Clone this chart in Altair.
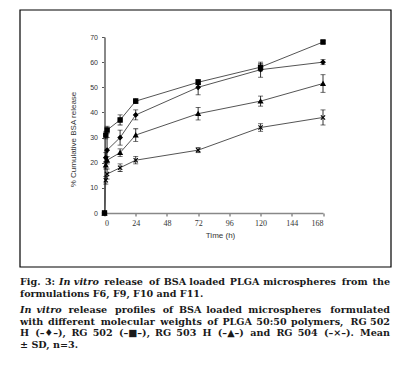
import altair as alt
import pandas as pd

# ---- data ----
times = [0, 1, 2, 12, 24, 72, 120, 168]
series_names = ["RG 502 H", "RG 502", "RG 503 H", "RG 504"]
rg502h = [0, 22, 25, 30, 39, 50, 57, 60]
rg502h_sd = [0, 2, 5, 3, 2, 3, 3, 1]
rg502 = [0, 31, 33, 37, 44.5, 52, 58, 68]
rg502_sd = [0, 1.5, 1.5, 2, 1, 1, 1.5, 0.5]
rg503h = [0, 19, 21, 24, 31, 39.5, 44.5, 51.5]
rg503h_sd = [0, 1.5, 1.5, 1.5, 2.5, 2.5, 2, 3.5]
rg504 = [0, 13, 15.5, 18, 21, 25, 34, 38]
rg504_sd = [0, 1.5, 2, 1.5, 1.5, 1, 1.5, 3]

x_ticks = [0, 24, 48, 72, 96, 120, 144, 168]
y_ticks = [0, 10, 20, 30, 40, 50, 60, 70]

caption_lines = [
    ("Fig. 3: *In *vitro release of BSA loaded PLGA microspheres from the", True),
    ("formulations F6, F9, F10 and F11.", False),
    ("*In *vitro release profiles of BSA loaded microspheres formulated", True),
    ("with different molecular weights of PLGA 50:50 polymers, RG 502", True),
    ("H (\u2013\u2666\u2013), RG 502 (\u2013\u25a0\u2013), RG 503 H (\u2013\u25b2\u2013) and RG 504 (\u2013\u00d7\u2013). Mean", True),
    ("\u00b1 SD, n=3.", False),
]

means = [rg502h, rg502, rg503h, rg504]
sds = [rg502h_sd, rg502_sd, rg503h_sd, rg504_sd]

rows = []
for name, m, s in zip(series_names, means, sds):
    for t, v, e in zip(times, m, s):
        rows.append({"time": t, "series": name, "mean": v, "sd": e,
                     "lo": v - e, "hi": v + e})
df = pd.DataFrame(rows)

shape_range = ["diamond", "square", "triangle-up", "M-1,-1L1,1M-1,1L1,-1"]

x_scale = alt.Scale(domain=[0, 168], nice=False)
y_scale = alt.Scale(domain=[0, 70], nice=False)
x_axis = alt.Axis(
    values=x_ticks, title="Time (h)", grid=False, labelOverlap=False,
    labelFont="Liberation Serif", labelFontSize=8, labelColor="#333",
    titleFont="Liberation Sans", titleFontSize=8, titleFontWeight="normal",
    titleColor="#333", titleX=115.5, titleY=22, titleBaseline="middle",
    tickSize=3, tickColor="#555", domainColor="#888", domainWidth=1.5,
    labelPadding=3,
)
y_axis = alt.Axis(
    values=y_ticks, title="% Cumulative BSA release", grid=False, labelOverlap=False,
    labelFont="Liberation Sans", labelFontSize=7, labelColor="#333",
    titleFont="Liberation Sans", titleFontSize=8, titleFontWeight="normal",
    titleColor="#333", titleX=-31, titleY=102, titleAngle=-90,
    titleBaseline="middle", titleAlign="center",
    tickSize=3, tickColor="#555", domainColor="#888", domainWidth=2,
    labelPadding=4,
)

def X():
    return alt.X("time:Q", scale=x_scale, axis=x_axis)

def Y(field):
    return alt.Y(f"{field}:Q", scale=y_scale, axis=y_axis)

base = alt.Chart(df)

lines = base.mark_line(color="#555", strokeWidth=1).encode(
    x=X(), y=Y("mean"), detail="series:N", order="time:Q"
)

err = base.transform_filter("datum.sd > 0")
rules = err.mark_rule(color="black", strokeWidth=0.8).encode(
    x=X(), y=Y("lo"), y2="hi:Q"
)
cap_lo = err.mark_tick(orient="horizontal", color="black", size=5, thickness=0.8).encode(
    x=X(), y=Y("lo")
)
cap_hi = err.mark_tick(orient="horizontal", color="black", size=5, thickness=0.8).encode(
    x=X(), y=Y("hi")
)

points = base.mark_point(filled=True, fill="black", stroke="black", strokeWidth=1.1, size=18, opacity=1).encode(
    x=X(), y=Y("mean"),
    shape=alt.Shape("series:N", scale=alt.Scale(domain=series_names, range=shape_range), legend=None),
)

frame = alt.Chart(pd.DataFrame({"a": [0]})).mark_rect(
    fill=None, stroke="black", strokeWidth=1.2
).encode(x=alt.value(-84.5), x2=alt.value(286.5), y=alt.value(-27), y2=alt.value(230))

# ---- caption (justified, word by word) ----
cap_font = "DejaVu Serif"
cap_size = 9.6
X0 = -84.5   # caption left edge (plot coords)
X1 = 285.5   # caption right edge (plot coords)
Y0 = 245
LINE_H = [0, 11.5, 28, 39.7, 51.3, 63]

def char_w(c):
    if c == " ":
        return 0.348
    if c.islower():
        return {"i": 0.38, "l": 0.38, "j": 0.35, "f": 0.44, "t": 0.47, "r": 0.55,
                "m": 1.1, "w": 0.93, "s": 0.59, "c": 0.6}.get(c, 0.69)
    if c.isupper():
        return {"I": 0.47, "M": 1.05, "H": 0.94, "D": 0.83, "G": 0.81}.get(c, 0.76)
    if c.isdigit():
        return 0.696
    if c in ".,:":
        return 0.38
    if c in "()":
        return 0.47
    if c == "\u2013":
        return 0.5
    return 0.8

def word_w(w):
    return sum(char_w(c) for c in w) * cap_size

def txt(s, x, y, italic=False, align="left"):
    return alt.Chart(pd.DataFrame({"a": [0]})).mark_text(
        text=s, font=cap_font, fontSize=cap_size, fontWeight="bold",
        fontStyle="italic" if italic else "normal", align=align,
        baseline="middle", color="#1a1a1a",
    ).encode(x=alt.value(x), y=alt.value(y))

caption = []
for (line, justify), dy in zip(caption_lines, LINE_H):
    y = Y0 + dy
    if not justify:
        caption.append(txt(line, X0, y))
        continue
    # words; "*" marks italic words
    italic_next = False
    words = []
    for tok in line.split(" "):
        if tok.startswith("*"):
            words.append((tok[1:], True))
        else:
            words.append((tok, False))
    widths = [word_w(w) for w, _ in words]
    gap = (X1 - X0 - sum(widths)) / (len(words) - 1)
    xpos = X0
    for i, ((w, it), ww) in enumerate(zip(words, widths)):
        if i == len(words) - 1:
            caption.append(txt(w, X1, y, italic=it, align="right"))
        else:
            caption.append(txt(w, xpos, y, italic=it))
        xpos += ww + gap

chart = alt.layer(frame, lines, rules, cap_lo, cap_hi, points, *caption).properties(
    width=218.5, height=176,
    padding={"left": 96.5, "top": 29, "right": 76, "bottom": 140},
    autosize=alt.AutoSizeParams(type="none"),
).configure_view(stroke=None).configure_axis(labelOverlap=False)

chart.save("out.html", embed_options={"renderer": "svg", "actions": False})
